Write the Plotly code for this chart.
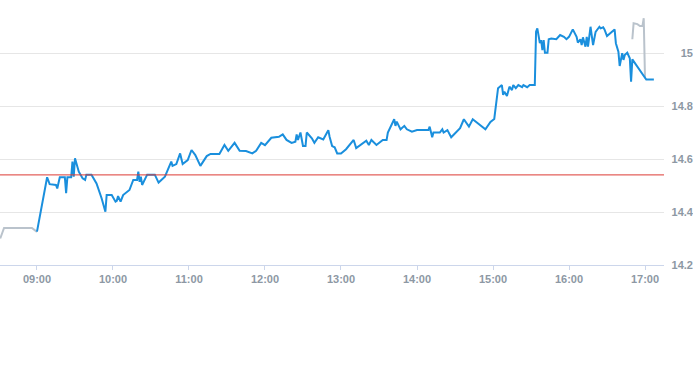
import plotly.graph_objects as go

DAY = "2024-01-02 "

# Pre-market (grey)
PRE_TIMES = ["08:31", "08:34", "08:56", "09:00"]
PRE_PRICES = [14.30, 14.34, 14.34, 14.325]

# Regular session (blue)
MAIN_TIMES = [
    "09:00", "09:08", "09:10", "09:15", "09:16", "09:18", "09:22", "09:23", "09:24", "09:27",
    "09:28", "09:29", "09:30", "09:33", "09:36", "09:38", "09:39", "09:43", "09:47", "09:51",
    "09:54", "09:55", "09:59", "10:02", "10:03", "10:04", "10:06", "10:08", "10:13", "10:16",
    "10:19", "10:20", "10:21", "10:22", "10:23", "10:25", "10:27", "10:33", "10:36", "10:41",
    "10:46", "10:47", "10:50", "10:53", "10:55", "10:59", "11:02", "11:05", "11:09", "11:14",
    "11:17", "11:24", "11:28", "11:31", "11:36", "11:40", "11:45", "11:50", "11:53", "11:57",
    "12:00", "12:05", "12:11", "12:14", "12:17", "12:21", "12:24", "12:25", "12:26", "12:28",
    "12:30", "12:32", "12:33", "12:37", "12:39", "12:42", "12:46", "12:49", "12:50", "12:51",
    "12:53", "12:55", "12:57", "13:00", "13:04", "13:10", "13:12", "13:20", "13:22", "13:24",
    "13:28", "13:33", "13:36", "13:37", "13:42", "13:43", "13:44", "13:47", "13:50", "13:52",
    "13:56", "14:00", "14:09", "14:10", "14:12", "14:13", "14:18", "14:20", "14:21", "14:24",
    "14:27", "14:34", "14:37", "14:41", "14:44", "14:54", "14:58", "15:01", "15:03", "15:04",
    "15:07", "15:08", "15:09", "15:11", "15:13", "15:15", "15:16", "15:18", "15:20", "15:23",
    "15:24", "15:27", "15:29", "15:33", "15:34", "15:35", "15:37", "15:38", "15:39", "15:40",
    "15:41", "15:43", "15:44", "15:46", "15:50", "15:53", "15:56", "15:58", "16:00", "16:03",
    "16:06", "16:07", "16:09", "16:10", "16:11", "16:13", "16:14", "16:15", "16:17", "16:19",
    "16:21", "16:24", "16:25", "16:27", "16:28", "16:30", "16:36", "16:37", "16:39", "16:40",
    "16:42", "16:43", "16:44", "16:46", "16:48", "16:49", "16:50", "17:00", "17:01", "17:07",
]
MAIN_PRICES = [
    14.326, 14.531, 14.505, 14.502, 14.489, 14.531, 14.531, 14.471, 14.531, 14.531,
    14.590, 14.533, 14.603, 14.552, 14.527, 14.521, 14.541, 14.541, 14.508, 14.452,
    14.401, 14.464, 14.464, 14.439, 14.442, 14.460, 14.439, 14.464, 14.483, 14.521,
    14.521, 14.552, 14.514, 14.533, 14.502, 14.521, 14.541, 14.541, 14.511, 14.533,
    14.590, 14.574, 14.581, 14.621, 14.581, 14.596, 14.634, 14.615, 14.574, 14.611,
    14.619, 14.619, 14.653, 14.631, 14.661, 14.631, 14.630, 14.621, 14.631, 14.661,
    14.652, 14.680, 14.684, 14.693, 14.672, 14.661, 14.665, 14.693, 14.672, 14.700,
    14.649, 14.649, 14.700, 14.678, 14.661, 14.682, 14.674, 14.700, 14.709, 14.684,
    14.649, 14.644, 14.621, 14.621, 14.637, 14.672, 14.641, 14.669, 14.653, 14.672,
    14.653, 14.672, 14.672, 14.700, 14.750, 14.725, 14.741, 14.712, 14.725, 14.712,
    14.703, 14.709, 14.709, 14.722, 14.682, 14.700, 14.700, 14.712, 14.700, 14.709,
    14.682, 14.716, 14.750, 14.722, 14.750, 14.712, 14.740, 14.751, 14.834, 14.867,
    14.879, 14.842, 14.854, 14.838, 14.873, 14.860, 14.879, 14.867, 14.879, 14.871,
    14.879, 14.871, 14.879, 14.879, 15.080, 15.093, 15.037, 15.049, 15.011, 15.049,
    15.001, 15.001, 15.052, 15.055, 15.052, 15.068, 15.061, 15.052, 15.061, 15.089,
    15.061, 15.039, 15.052, 15.030, 15.059, 15.024, 15.061, 15.024, 15.099, 15.030,
    15.080, 15.099, 15.093, 15.097, 15.089, 15.064, 15.089, 15.037, 15.005, 14.951,
    14.999, 14.974, 14.992, 15.001, 14.980, 14.892, 14.976, 14.908, 14.900, 14.900,
]

# After-hours (grey)
POST_TIMES = ["16:50", "16:51", "16:54", "16:56", "16:58", "16:59", "17:00"]
POST_PRICES = [15.052, 15.112, 15.109, 15.102, 15.102, 15.131, 14.905]

REF_PRICE = 14.54

X_RANGE = ["08:30:48", "17:15"]
Y_RANGE = [14.2, 15.2]
Y_TICKS = [14.2, 14.4, 14.6, 14.8, 15.0]
Y_LABELS = ["14.2", "14.4", "14.6", "14.8", "15"]

BLUE = "#1a8fdd"
GREY = "#bac3cc"
LABEL = dict(family="Liberation Sans, Arial, sans-serif", size=11, color="#8d98a4", weight="bold")


def ts(lst):
    return [DAY + t for t in lst]


fig = go.Figure()
fig.add_trace(go.Scatter(x=ts(PRE_TIMES), y=PRE_PRICES, mode="lines",
                         line=dict(color=GREY, width=2), hoverinfo="skip"))
fig.add_trace(go.Scatter(x=ts(POST_TIMES), y=POST_PRICES, mode="lines",
                         line=dict(color=GREY, width=2), hoverinfo="skip"))
fig.add_trace(go.Scatter(x=ts(MAIN_TIMES), y=MAIN_PRICES, mode="lines",
                         line=dict(color=BLUE, width=2)))

fig.add_shape(type="line", xref="x domain", yref="y", x0=0, x1=1,
              y0=REF_PRICE, y1=REF_PRICE, line=dict(color="#dc3a34", width=1), layer="above")

fig.update_layout(
    width=693, height=365,
    margin=dict(l=0, r=0, t=0, b=100),
    paper_bgcolor="white", plot_bgcolor="white",
    showlegend=False,
    xaxis=dict(
        type="date", domain=[0, 664 / 693],
        range=[DAY + X_RANGE[0], DAY + X_RANGE[1]],
        tick0=DAY + "09:00", dtick=3600000, tickformat="%H:%M",
        showgrid=False, zeroline=False,
        showline=True, linecolor="#ccd6eb", linewidth=1,
        ticks="outside", ticklen=4, tickcolor="#ccd6eb",
        tickfont=LABEL,
    ),
    yaxis=dict(
        range=Y_RANGE, tickvals=Y_TICKS, ticktext=Y_LABELS,
        anchor="free", position=1, side="left",
        showgrid=True, gridcolor="#e6e6e6", gridwidth=1,
        zeroline=False, showline=False, ticks="",
        tickfont=LABEL,
    ),
)

fig.write_html("out.html", config={"displayModeBar": False})

with open("out.html", "r", encoding="utf-8") as f:
    html = f.read()
html = html.replace("<head>", "<head><style>html,body{margin:0;padding:0;overflow:hidden;}</style>", 1)
with open("out.html", "w", encoding="utf-8") as f:
    f.write(html)
